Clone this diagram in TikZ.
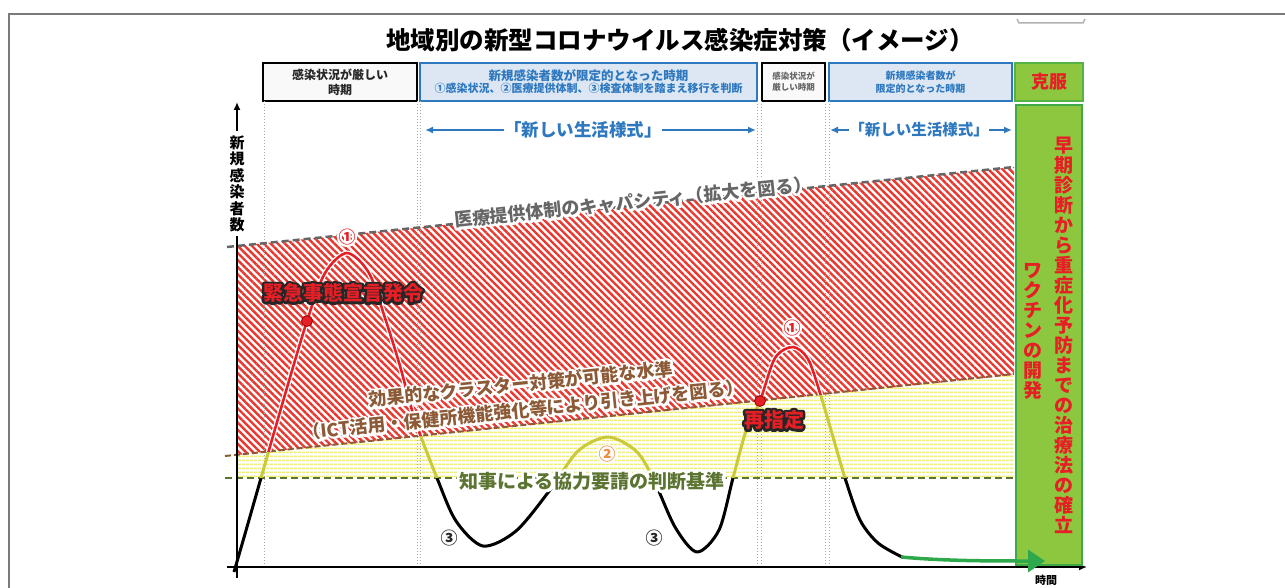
\documentclass[tikz,border=0pt]{standalone}
\usepackage{fontspec}
\setmainfont{Noto Sans CJK JP}
\usetikzlibrary{patterns.meta,arrows.meta,calc}
\definecolor{hred}{HTML}{E8382F}
\definecolor{curvered}{HTML}{E61E25}
\definecolor{hyel}{HTML}{EDED78}
\definecolor{curveyel}{HTML}{C9C93A}
\definecolor{capgray}{HTML}{666666}
\definecolor{clubrown}{HTML}{8C5A36}
\definecolor{govgreen}{HTML}{5C7431}
\definecolor{hblue}{HTML}{2E78C0}
\definecolor{hbluefill}{HTML}{DCE7F3}
\definecolor{okgreen}{HTML}{8DC63F}
\definecolor{okborder}{HTML}{3DAA47}
\definecolor{arrgreen}{HTML}{2DA84A}
\definecolor{circorange}{HTML}{F08A3C}
\definecolor{framegray}{HTML}{7A7A7A}
\definecolor{colgray}{HTML}{A8A8A8}
% text with an outline halo: an outlined copy (PDF text render mode 1) below the filled text
\newcommand\halotext[6]{%
  \node[#3,text=#4] (#1-halo) at (#2) {\special{pdf:literal direct #5 w 1 j 1 J 1 Tr}#6\special{pdf:literal direct 0 Tr}};%
  \node[#3] (#1) at (#2) {#6};}
\tikzset{
  lbl/.style={inner sep=0pt, font=\bfseries\fontsize{#1}{#1}\selectfont},
  periodbox/.style={draw=black, line width=2pt, fill=gray!5, minimum height=38pt, inner sep=0pt, align=center, text=black!85},
  bluebox/.style={draw=hblue, line width=1.5pt, fill=hbluefill, minimum height=38pt, inner sep=0pt, align=center, text=hblue},
  coldot/.style={colgray, line width=1pt, dotted},
  capline/.style={capgray, line width=2.5pt, dash pattern=on 7pt off 4pt},
  cluline/.style={clubrown, line width=2pt, dash pattern=on 6pt off 3pt},
  govline/.style={govgreen, line width=2pt, dash pattern=on 7pt off 4pt},
  axis/.style={black, line width=2pt},
  lifearrow/.style={hblue, line width=2.5pt, -{Latex[length=8pt,width=7pt]}},
  vtext/.style={align=center, inner sep=0pt, text=curvered, font=\bfseries\fontsize{19}{20}\selectfont},
  redot/.style={circle, fill=curvered, draw=red!60!black, line width=0.8pt, minimum size=11pt, inner sep=0pt},
}
\begin{document}
\begin{tikzpicture}[x=1pt,y=-1pt,font=\bfseries]
\useasboundingbox (0,0) rectangle (1285,588);
\fill[white] (0,0) rectangle (1285,588);
% frame
\draw[framegray, line width=2pt] (9,588) -- (9,14) -- (1286,14);
\draw[gray!60, line width=1.5pt] (1017,19) -- (1019,23) -- (1083,23) -- (1085,19);
% title
\node[lbl=24.5] (title) at (680,40) {地域別の新型コロナウイルス感染症対策（イメージ）};
% period boxes
\node[periodbox, minimum width=154pt, font=\bfseries\fontsize{12}{15}\selectfont] (p1) at (340,82) {感染状況が厳しい\\時期};
\node[bluebox, minimum width=337pt] (p2) at (588.5,82) {\fontsize{12.5}{15}\selectfont 新規感染者数が限定的となった時期\\\fontsize{11}{13}\selectfont ①感染状況、②医療提供体制、③検査体制を踏まえ移行を判断};
\node[periodbox, minimum width=63pt, text=black!60, font=\bfseries\fontsize{8.5}{11}\selectfont] (p3) at (793.5,82) {感染状況が\\厳しい時期};
\node[bluebox, minimum width=183pt, font=\bfseries\fontsize{10}{13}\selectfont] (p4) at (920.5,82) {新規感染者数が\\限定的となった時期};
\node[draw=okborder!70!okgreen, line width=1.5pt, fill=okgreen, minimum width=68pt, minimum height=38pt, inner sep=0pt, text=curvered, font=\bfseries\fontsize{18}{18}\selectfont] (p5) at (1049,82) {克服};
% new lifestyle arrows
\node[lbl=17.5, text=hblue] (life1) at (583,130) {「新しい生活様式」};
\coordinate (la1) at (425,130); \coordinate (lb1) at (756,130);
\draw[lifearrow] (life1.west) -- (la1);
\draw[lifearrow] (life1.east) -- (lb1);
\node[lbl=15.5, text=hblue] (life2) at (919,130) {「新しい生活様式」};
\coordinate (la2) at (830,130); \coordinate (lb2) at (1012,130);
\draw[lifearrow] (life2.west) -- (la2);
\draw[lifearrow] (life2.east) -- (lb2);
% regions
\fill[pattern={Lines[angle=-45,distance=5pt,line width=2.4pt]}, pattern color=hred]
  (237,246) -- (1014,167) -- (1014,375) -- (237,455) -- cycle;
\fill[pattern={Lines[angle=0,distance=4pt,line width=2pt]}, pattern color=hyel]
  (237,455) -- (1014,375) -- (1014,478) -- (237,478) -- cycle;
% column dotted lines
\foreach \cx in {264,417,420,757,761,825,829} \draw[coldot] (\cx,101) -- (\cx,566);
% level lines
\coordinate (c1) at (227,247); \coordinate (c2) at (1014,167);
\coordinate (k1) at (225,456); \coordinate (k2) at (1014,374);
\coordinate (g1) at (225,478); \coordinate (g2) at (1014,478);
\draw[capline] (c1) -- (c2);
\draw[cluline] (k1) -- (k2);
\draw[govline] (g1) -- (g2);
% axes
\coordinate (yb) at (237,578); \coordinate (yt) at (237,236);
\draw[axis] (yb) -- (yt);
\node[align=center, inner sep=0pt, font=\bfseries\fontsize{15}{16.5}\selectfont] (ylabel) at (237,184) {新\\規\\感\\染\\者\\数};
\coordinate (ya) at (237,131); \coordinate (yh) at (237,102);
\draw[axis, -{Latex[length=8pt,width=7pt]}] (ya) -- (yh);
\coordinate (xa) at (227,567); \coordinate (xb) at (1087,567);
\draw[axis, -{Latex[length=8pt,width=7pt]}] (xa) -- (xb);
\node[lbl=11] (tlabel) at (1046,580) {時間};
% curve
\def\infcurve{plot[smooth,tension=0.5] coordinates {(234,572) (247,527) (261,478) (284,398) (307,321) (325,273) (347,253) (369,273) (385,318) (400,366) (415,420) (437,478) (456,521) (483,546) (516,531) (550,490) (578,451) (608,437) (636,451) (653,478) (675,527) (697,552) (719,530) (733,478) (746,431) (760,401) (775,358) (793,347) (808,359) (820,393) (833,437) (845,478) (860,520) (878,543) (902,557)}}
\begin{scope}
  \clip (200,478) rectangle (1100,600);
  \draw[black, line width=3pt, line join=round] \infcurve;
\end{scope}
\begin{scope}
  \clip (200,459) -- (1100,366) -- (1100,478) -- (200,478) -- cycle;
  \draw[curveyel, line width=3pt, line join=round] \infcurve;
\end{scope}
\begin{scope}
  \clip (200,0) -- (1100,0) -- (1100,366) -- (200,459) -- cycle;
  \draw[white, line width=5pt, line join=round] \infcurve;
  \draw[curvered, line width=2.6pt, line join=round] \infcurve;
\end{scope}
% green box and arrow
\node[draw=okborder, fill=okgreen, line width=2pt, minimum width=66pt, minimum height=460pt, inner sep=0pt] (ok) at (1049,335) {};
\node[vtext] (vt1) at (1064,335) {早\\期\\診\\断\\か\\ら\\重\\症\\化\\予\\防\\ま\\で\\の\\治\\療\\法\\の\\確\\立};
\node[vtext] (vt2) at (1033,331) {ワ\\ク\\チ\\ン\\の\\開\\発};
\coordinate (gs) at (901,557); \coordinate (ge) at (1045,561);
\draw[arrgreen, line width=3.5pt, -{Triangle[length=17pt,width=22pt]}] (gs) .. controls (945,561) and (990,561) .. (ge);
% level labels
\halotext{captext}{633,202}{lbl=18, text=capgray, rotate=5.8}{white}{4.5}{医療提供体制のキャパシティ（拡大を図る）}
\halotext{clutext}{522,397}{inner sep=0pt, align=center, text=clubrown, rotate=5.9, font=\bfseries\fontsize{18}{26}\selectfont}{white}{4.5}{効果的なクラスター対策が可能な水準\\（ICT活用・保健所機能強化等により引き上げを図る）}
\halotext{govtext}{592,481}{lbl=19, text=govgreen}{white}{6}{知事による協力要請の判断基準}
% circled numbers
\halotext{n1a}{347,237}{lbl=17, text=curvered}{white}{4}{①}
\halotext{n1b}{792,328}{lbl=17, text=curvered}{white}{4}{①}
\halotext{n2}{607,454}{lbl=17, text=circorange}{white}{4}{②}
\node[lbl=17, text=black!85] (n3a) at (449,538) {③};
\node[lbl=17, text=black!85] (n3b) at (654,538) {③};
% events
\node[redot] (dot1) at (307,321) {};
\node[redot] (dot2) at (760,401) {};
\halotext{kinkyu}{343,293}{lbl=20, text=curvered}{black!85}{5}{緊急事態宣言発令}
\halotext{saishitei}{774,420}{lbl=20, text=curvered}{black!85}{5}{再指定}
\end{tikzpicture}
\end{document}
